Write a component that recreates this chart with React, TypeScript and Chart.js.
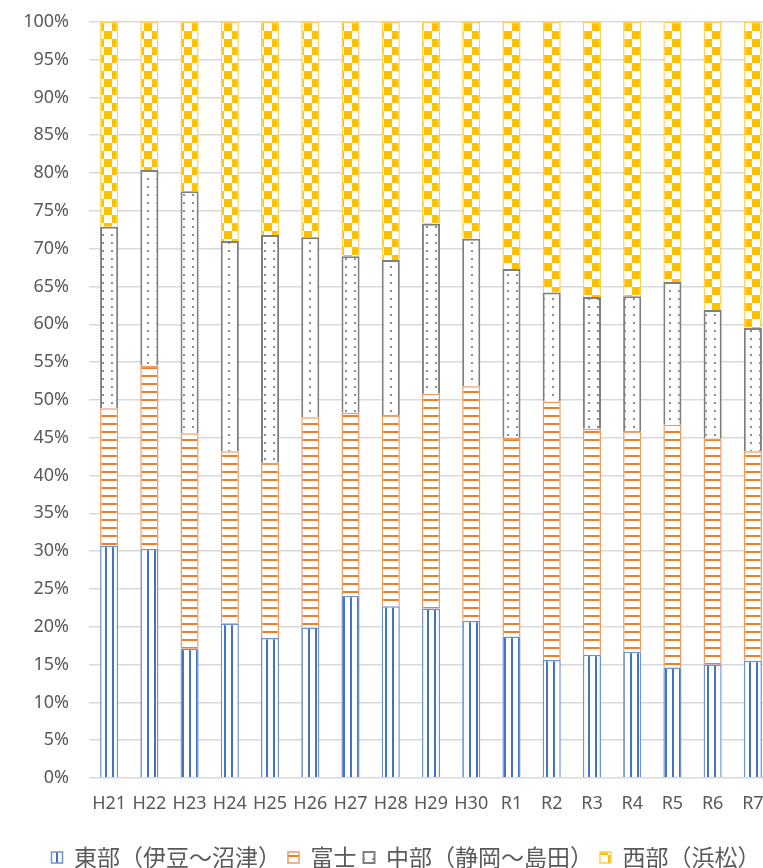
import React, { useEffect, useRef } from "react";
import { Chart, registerables } from "chart.js";

Chart.register(...registerables);

const categories = ["H21", "H22", "H23", "H24", "H25", "H26", "H27", "H28", "H29", "H30", "R1", "R2", "R3", "R4", "R5", "R6", "R7"];
const seriesNames = ["東部（伊豆～沼津）", "富士", "中部（静岡～島田）", "西部（浜松）"];
const eastShare = [30.7, 30.3, 17.1, 20.4, 18.5, 19.9, 24.1, 22.7, 22.4, 20.8, 18.7, 15.6, 16.3, 16.7, 14.6, 15.0, 15.5];
const fujiShare = [18.2, 24.2, 28.5, 22.8, 23.2, 27.8, 24.2, 25.3, 28.4, 31.0, 26.3, 34.2, 29.9, 29.2, 32.1, 29.9, 27.7];
const chubuShare = [24.0, 25.9, 32.0, 27.8, 30.1, 23.8, 20.7, 20.5, 22.5, 19.5, 22.3, 14.4, 17.4, 17.8, 18.9, 17.0, 16.3];
const westShare = [27.1, 19.6, 22.4, 29.0, 28.2, 28.5, 31.0, 31.5, 26.7, 28.7, 32.7, 35.8, 36.4, 36.3, 34.4, 38.1, 40.5];
const yMax = 100;
const yStep = 5;

function makePattern(ctx: CanvasRenderingContext2D, kind: string): CanvasPattern | string {
  const c = document.createElement("canvas");
  const g = c.getContext("2d")!;
  if (kind === "vert") {
    c.width = 7; c.height = 8;
    g.fillStyle = "#ffffff"; g.fillRect(0, 0, 7, 8);
    g.fillStyle = "#4472c4"; g.fillRect(0, 0, 2, 8);
  } else if (kind === "horiz") {
    c.width = 8; c.height = 8;
    g.fillStyle = "#ffffff"; g.fillRect(0, 0, 8, 8);
    g.fillStyle = "#ed7d31"; g.fillRect(0, 0, 8, 2);
  } else if (kind === "dots") {
    c.width = 9; c.height = 8;
    g.fillStyle = "#ffffff"; g.fillRect(0, 0, 9, 8);
    g.fillStyle = "#8c8c8c"; g.fillRect(3, 3, 2, 2);
  } else {
    c.width = 16; c.height = 16;
    g.fillStyle = "#ffffff"; g.fillRect(0, 0, 16, 16);
    g.fillStyle = "#ffc000"; g.fillRect(0, 0, 8, 8); g.fillRect(8, 8, 8, 8);
  }
  return ctx.createPattern(c, "repeat") || "#ffffff";
}

export default function App() {
  const ref = useRef<HTMLCanvasElement | null>(null);
  useEffect(() => {
    const canvas = ref.current!;
    const ctx = canvas.getContext("2d")!;
    const chart = new Chart(ctx, {
      type: "bar",
      data: {
        labels: categories,
        datasets: [
          { label: seriesNames[0], data: eastShare, backgroundColor: makePattern(ctx, "vert") as any, borderColor: "#6f92d6", borderWidth: 1.5 },
          { label: seriesNames[1], data: fujiShare, backgroundColor: makePattern(ctx, "horiz") as any, borderColor: "#f09a5e", borderWidth: 1.5 },
          { label: seriesNames[2], data: chubuShare, backgroundColor: makePattern(ctx, "dots") as any, borderColor: "#7f7f7f", borderWidth: 2 },
          { label: seriesNames[3], data: westShare, backgroundColor: makePattern(ctx, "check") as any, borderColor: "#ffd04d", borderWidth: 1.5 },
        ],
      },
      options: {
        responsive: false,
        animation: false,
        devicePixelRatio: 1,
        layout: { padding: { top: 4, right: 0, left: 0, bottom: 0 } },
        datasets: { bar: { categoryPercentage: 1, barPercentage: 0.45 } },
        plugins: {
          tooltip: { enabled: false },
          legend: {
            position: "bottom",
            labels: {
              boxWidth: 11,
              boxHeight: 11,
              padding: 7,
              color: "#595959",
              font: { family: "'Noto Sans CJK JP'", size: 23 },
            },
          },
        },
        scales: {
          x: {
            stacked: true,
            grid: { display: false },
            border: { display: false },
            ticks: { color: "#595959", font: { family: "'Noto Sans'", size: 18 }, padding: 7 },
            afterFit: (s: any) => { s.height = 61; s.paddingRight = 39; },
          },
          y: {
            stacked: true,
            min: 0,
            max: yMax,
            border: { display: false },
            grid: { color: "#d9d9d9", lineWidth: 1.5, drawTicks: false },
            ticks: {
              stepSize: yStep,
              color: "#595959",
              padding: 20,
              font: { family: "'Noto Sans'", size: 18 },
              callback: (v: any) => `${v}%`,
            },
            afterFit: (s: any) => { s.width = 89; },
          },
        },
      },
    });
    return () => chart.destroy();
  }, []);
  return (
    <div style={{ position: "fixed", left: 0, top: 0, width: 763, height: 868, overflow: "hidden", background: "#fff" }}>
      <canvas ref={ref} width={812} height={888} style={{ width: 812, height: 888, display: "block", marginTop: -9 }} />
    </div>
  );
}
